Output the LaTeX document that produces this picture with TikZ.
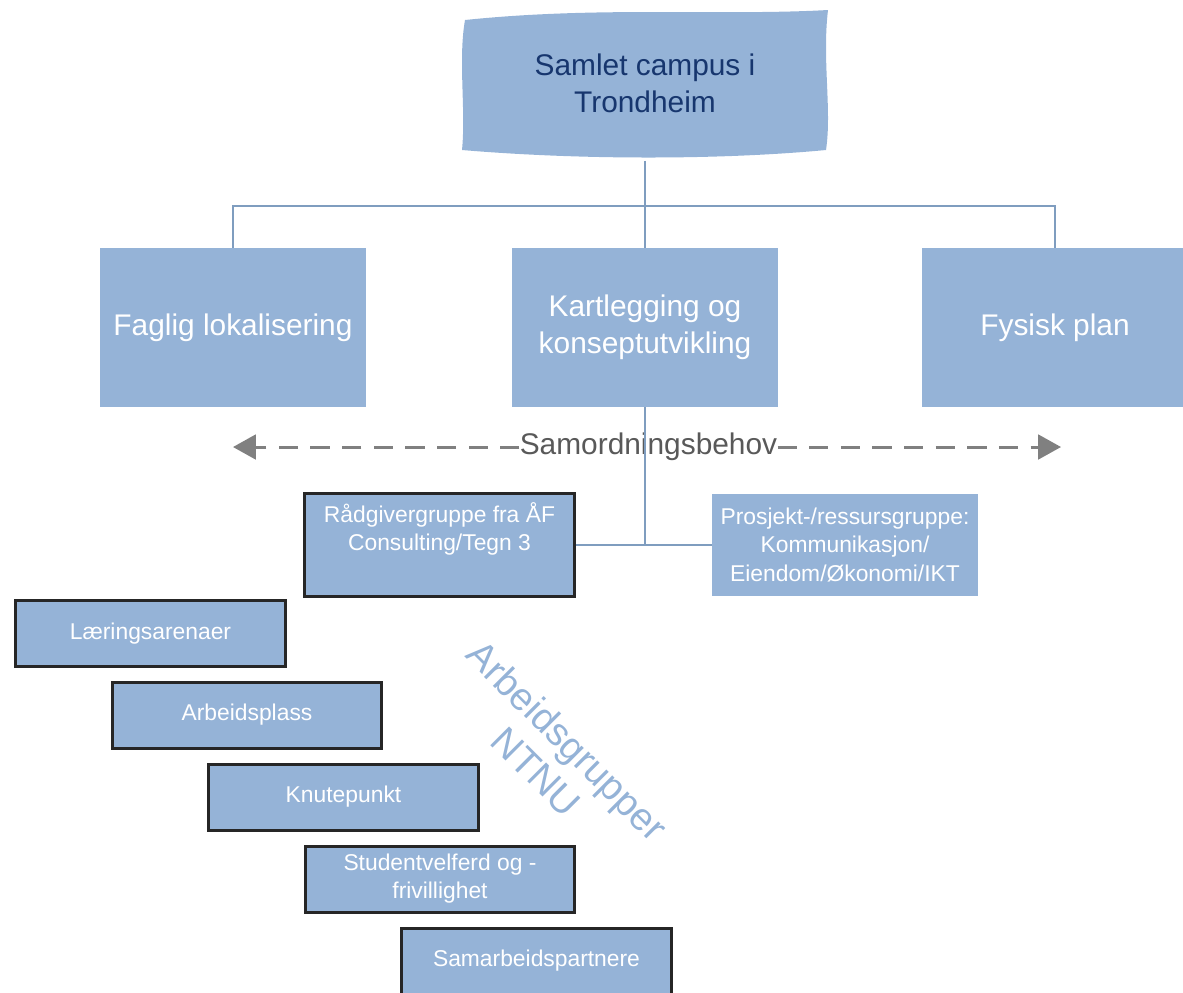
\documentclass[tikz,border=0pt]{standalone}
\usepackage{fontspec}
\setmainfont{Liberation Sans}
\usetikzlibrary{arrows.meta}
\definecolor{boxblue}{HTML}{95B3D7}
\definecolor{linkblue}{HTML}{7F9DBF}
\definecolor{titleblue}{HTML}{17366E}
\definecolor{arrowgray}{HTML}{808080}
\definecolor{labelgray}{HTML}{595959}
\begin{document}
\begin{tikzpicture}[x=0.02cm,y=-0.02cm,
        bigbox/.style={fill=boxblue,text=white,minimum width=5.32cm,minimum height=3.18cm,align=center,inner sep=0pt,font=\fontsize{17}{21}\selectfont},
        groupbox/.style={fill=boxblue,draw=black!85,line width=1.7pt,text=white,minimum width=5.4cm,minimum height=1.32cm,align=center,inner sep=0pt,font=\fontsize{13}{16}\selectfont},
        link/.style={draw=linkblue,line width=1.3pt},
        coordarrow/.style={draw=arrowgray,line width=1.7pt,dash pattern=on 11pt off 7pt,-{Triangle[length=13pt,width=14pt]}}]
        \clip (0,0) rectangle (1183,992);
        % top box, hand drawn look
        \fill[boxblue] (465,20) .. controls (600,6) and (720,16) .. (828,10)
            .. controls (822,60) and (832,110) .. (826,150)
            .. controls (720,160) and (580,160) .. (462,150)
            .. controls (466,110) and (458,60) .. (465,20) -- cycle;
        \node[text=titleblue,align=center,minimum width=7.2cm,minimum height=3.1cm,font=\fontsize{17}{21}\selectfont] (campus) at (645,83) {Samlet campus i\\Trondheim};
        % second level
        \node[bigbox] (faglig) at (233,327.5) {Faglig lokalisering};
        \node[bigbox] (kart) at (645,327.5) {Kartlegging og\\konseptutvikling};
        \node[bigbox] (fysisk) at (1055,327.5) {Fysisk plan};
        % coordination
        \node[text=labelgray,inner sep=0pt,font=\fontsize{17}{21}\selectfont] (samord) at (648.5,447) {Samordningsbehov};
        \coordinate (sleft) at (233,447);
        \coordinate (sright) at (1061,447);
        \draw[coordarrow](samord.west)--(sleft);
        \draw[coordarrow](samord.east)--(sright);
        % groups
        \node[groupbox,minimum height=2.06cm] (radgiver) at (439.5,545) {Rådgivergruppe fra ÅF\\Consulting/Tegn 3\\\strut};
        \node[fill=boxblue,text=white,minimum width=5.32cm,minimum height=2.04cm,align=center,inner sep=0pt,font=\fontsize{13}{16}\selectfont] (prosjekt) at (845,545) {Prosjekt-/ressursgruppe:\\Kommunikasjon/\\Eiendom/Økonomi/IKT};
        \node[groupbox] (laering) at (150.5,633.5) {Læringsarenaer};
        \node[groupbox] (arbeid) at (247,715) {Arbeidsplass};
        \node[groupbox] (knute) at (343.5,797) {Knutepunkt};
        \node[groupbox] (student) at (440,879) {Studentvelferd og -\\frivillighet};
        \node[groupbox] (samarb) at (536.5,961) {Samarbeidspartnere};
        \node[rotate=-45,text=boxblue,align=center,font=\fontsize{22}{25}\selectfont] (ntnu) at (552,756) {Arbeidsgrupper\\NTNU};
        % connectors
        \draw[link](campus.south)--(kart.north);
        \draw[link](faglig.north)--++(0,-42)-|(fysisk.north);
        \draw[link](kart.south)--(kart.south |- prosjekt.west);
        \draw[link](radgiver.east)--(prosjekt.west);
    \end{tikzpicture}
\end{document}
